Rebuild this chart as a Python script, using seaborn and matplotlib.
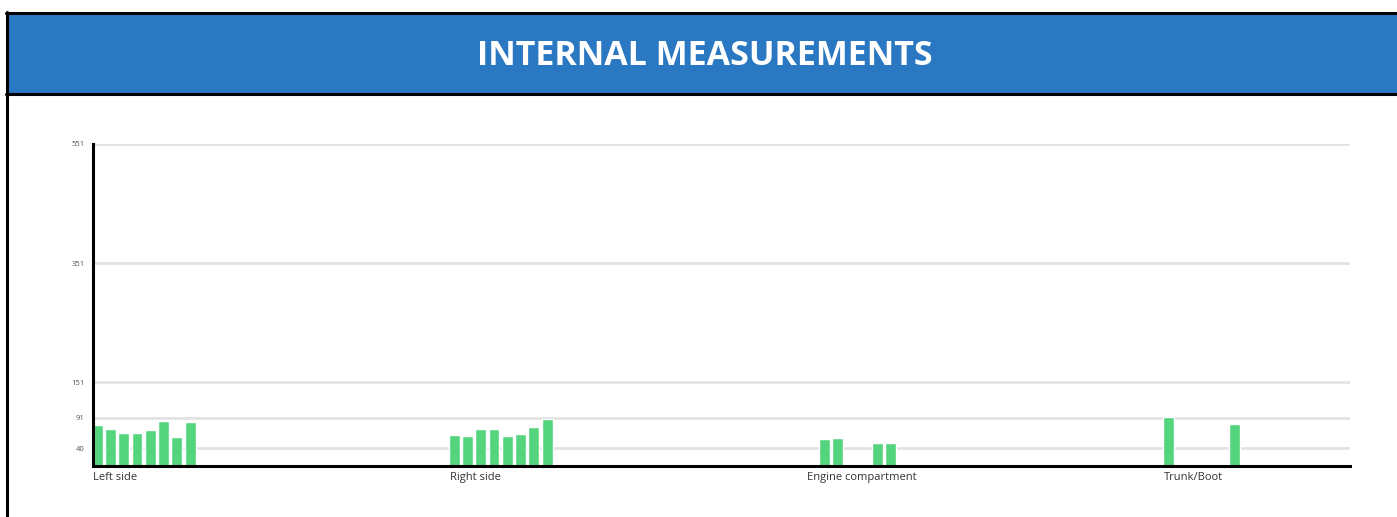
import numpy as np
import pandas as pd
import matplotlib
matplotlib.use("Agg")
import matplotlib.pyplot as plt
from matplotlib.patches import Rectangle
from matplotlib.lines import Line2D
import seaborn as sns

areas = ["Left side", "Right side", "Engine compartment", "Trunk/Boot"]
slots = ["1", "2", "3", "4", "5", "6", "7", "8"]
left_side = [79, 73, 65, 65, 70, 86, 59, 84]
right_side = [62, 60, 73, 73, 60, 64, 75, 89]
engine = [np.nan, 56, 57, np.nan, np.nan, 49, 48, np.nan]
trunk = [92, np.nan, np.nan, np.nan, np.nan, 81, np.nan, np.nan]
y_ticks = [40, 91, 151, 351, 551]

rows = []
for area, vals in zip(areas, [left_side, right_side, engine, trunk]):
    for s, v in zip(slots, vals):
        rows.append({"area": area, "slot": s, "value": v})
df = pd.DataFrame(rows)

sns.set_style("white")
plt.rcParams["font.family"] = ["Open Sans", "DejaVu Sans"]

W, H = 1397, 517
fig = plt.figure(figsize=(W / 100, H / 100), dpi=100)

# header banner
fig.patches.append(Rectangle((7 / W, 1 - 94 / H), 1, 81 / H, transform=fig.transFigure,
                             facecolor="#2B78C2", edgecolor="none", zorder=0))
for y in (13, 94):
    fig.lines.append(Line2D([6 / W, 1], [1 - y / H, 1 - y / H], transform=fig.transFigure,
                            color="black", lw=2.2))
fig.lines.append(Line2D([7 / W, 7 / W], [1 - 12 / H, 0], transform=fig.transFigure,
                        color="black", lw=2.2))
fig.text(705 / W, 1 - 56 / H, "INTERNAL MEASUREMENTS", ha="center", va="center",
         color="white", fontsize=24.5, fontweight="bold")

ax = fig.add_axes([93 / W, 1 - 466 / H, (1350 - 93) / W, (466 - 144) / H])
group_w = 0.298
shift = 2.5 / 357  # bars sit a touch left of the label start
sns.barplot(data=df, x="area", y="value", hue="slot", order=areas, hue_order=slots,
            palette=["#55D47E"] * len(slots), width=group_w, gap=0.18, legend=False,
            saturation=1, errorbar=None, ax=ax, zorder=3)

ax.set_ylim(10, 551)
ax.set_xlim(-group_w / 2 + shift, -group_w / 2 + shift + (1350 - 93) / 357)
ax.set_yticks(y_ticks)
ax.set_yticklabels([str(t) for t in y_ticks], fontsize=5.5, color="#555555")
ax.set_xticks([i - group_w / 2 + shift for i in range(len(areas))])
ax.set_xticklabels(areas, fontsize=8, color="#333333", ha="left")
ax.tick_params(axis="both", length=0)
ax.tick_params(axis="y", pad=6)
ax.tick_params(axis="x", pad=4)
ax.set_xlabel("")
ax.set_ylabel("")
ax.yaxis.grid(True, color="#E3E3E3", lw=2)
ax.set_axisbelow(True)
for side in ("top", "right"):
    ax.spines[side].set_visible(False)
for side in ("left", "bottom"):
    ax.spines[side].set_color("black")
    ax.spines[side].set_linewidth(2.2)
    ax.spines[side].set_zorder(5)

fig.savefig("out.png", dpi=100)
